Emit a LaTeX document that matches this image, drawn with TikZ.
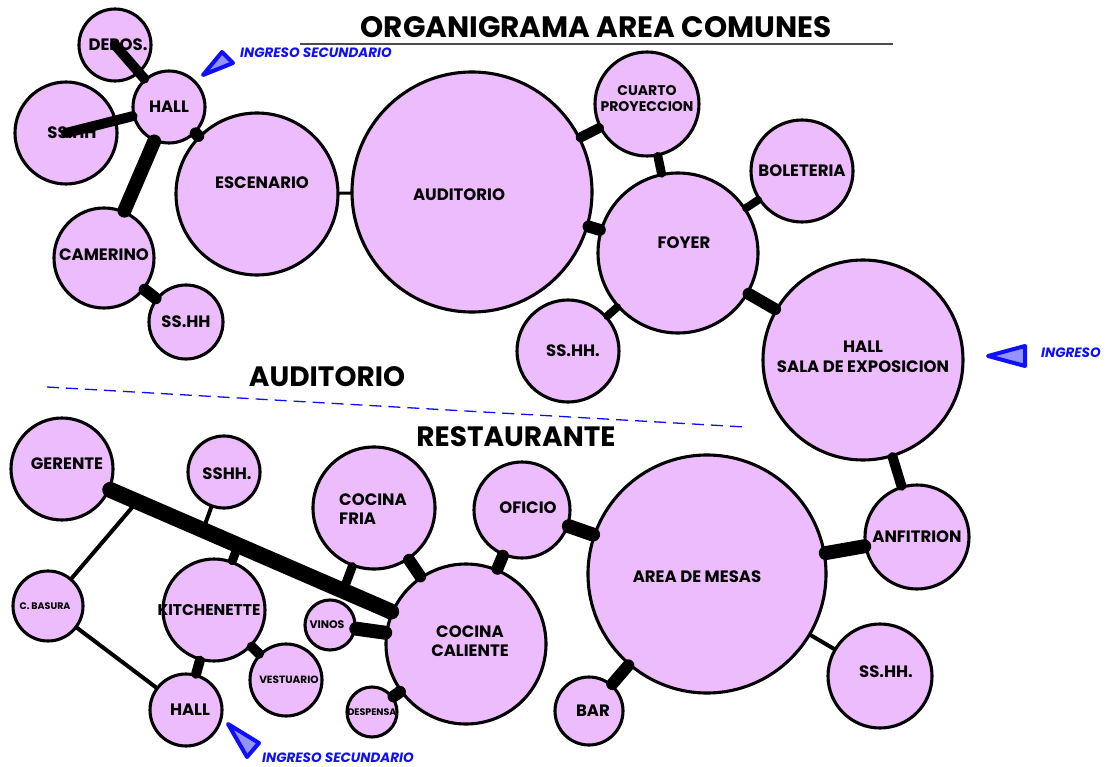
\documentclass[tikz,border=0pt]{standalone}
\usepackage{fontspec}
\setmainfont{Poppins}
\usepackage{xcolor}
\usepackage{tikz}
\usetikzlibrary{calc}

\definecolor{lila}{RGB}{236,188,252}
\definecolor{ingreso}{RGB}{15,15,250}

\begin{document}
\begin{tikzpicture}[
    x=1pt, y=-1pt,
    bub/.style={circle, draw, line width=3.1pt, fill=lila, inner sep=0pt, minimum size=#1pt},
    txt/.style={font=\fontsize{16.5}{19.5}\selectfont\bfseries, align=center, inner sep=0pt},
    txs/.style={font=\fontsize{14}{16}\selectfont\bfseries, align=center, inner sep=0pt},
    txm/.style={font=\fontsize{#1}{#1}\selectfont\bfseries, align=center, inner sep=0pt},
    lnk/.style={line width=#1pt, line cap=round},
    head/.style={font=\fontsize{28}{30}\selectfont\bfseries, inner sep=0pt},
    ing/.style={font=\fontsize{13.5}{15}\selectfont\bfseries\itshape, text=ingreso, inner sep=0pt, anchor=west},
    flecha/.style={draw=ingreso, line width=4pt, line join=round, fill=ingreso!45!white}
]
\useasboundingbox[fill=white] (0,0) rectangle (1110,767);

% Titles
\node[head, font=\fontsize{29.5}{32}\selectfont\bfseries] (tit) at (596,27) {ORGANIGRAMA AREA COMUNES};
\draw[gray!60!black, line width=1.5pt] (300,44) -- (893,44);
\node[head] (taud) at (327,377) {AUDITORIO};
\node[head] (trest) at (516,437) {RESTAURANTE};
\draw[ingreso, line width=1.3pt, dash pattern=on 12pt off 7pt] (47,387) -- (745,427);

% Auditorio (upper part)
\node[bub=72, label={[txt, xshift=3pt]center:DEPOS.}] (depos) at (115,45) {};
\node[bub=102, label={[txt, xshift=6pt]center:SS.HH}] (sshhA) at (66,133) {};
\node[bub=72, label={[txt]center:HALL}] (hallA) at (169,107) {};
\node[bub=100, label={[txt, yshift=3pt]center:CAMERINO}] (camerino) at (104,258) {};
\node[bub=74, label={[txt]center:SS.HH}] (sshhB) at (186,322) {};
\node[bub=162, label={[txt, xshift=5pt, yshift=11pt]center:ESCENARIO}] (escenario) at (257,194) {};
\node[bub=240, label={[txt, xshift=-13pt, yshift=-3pt]center:AUDITORIO}] (auditorio) at (472,192) {};
\node[bub=104, label={[txs, yshift=5pt]center:CUARTO\\PROYECCION}] (cuarto) at (647,104) {};
\node[bub=160, label={[txt, xshift=6pt, yshift=10pt]center:FOYER}] (foyer) at (678,253) {};
\node[bub=102, label={[txt]center:BOLETERIA}] (boleteria) at (802,171) {};
\node[bub=102, label={[txt, xshift=5pt]center:SS.HH.}] (sshhC) at (568,351) {};
\node[bub=200, label={[txt, yshift=3pt]center:HALL\\SALA DE EXPOSICION}] (hallsala) at (863,360) {};

\draw[lnk=3] (escenario) -- (auditorio);
\draw[lnk=12] (hallA) -- (escenario);
\draw[lnk=14] (hallA) -- (camerino);
\draw[lnk=12] (camerino) -- (sshhB);
\draw[lnk=10] (depos.center) -- (hallA);
\draw[lnk=10] (sshhA.center) -- (hallA);
\draw[lnk=10] (auditorio) -- (cuarto);
\draw[lnk=9] (cuarto) -- (foyer);
\draw[lnk=12] (auditorio) -- (foyer);
\draw[lnk=8] (foyer) -- (boleteria);
\draw[lnk=8] (foyer) -- (sshhC);
\draw[lnk=12] (foyer) -- (hallsala);

% Restaurante (lower part)
\node[bub=104, label={[txt]center:ANFITRION}] (anfitrion) at (917,537) {};
\node[bub=238, label={[txt, xshift=-10pt, yshift=-3pt]center:AREA DE MESAS}] (mesas) at (707,574) {};
\node[bub=104, label={[txt, xshift=6pt, yshift=4pt]center:SS.HH.}] (sshhD) at (880,676) {};
\node[bub=68, label={[txt, xshift=4pt]center:BAR}] (bar) at (589,711) {};
\node[bub=96, label={[txt, xshift=6pt, yshift=2pt]center:OFICIO}] (oficio) at (522,510) {};
\node[bub=160, label={[txt, xshift=4pt, yshift=3pt]center:COCINA\\CALIENTE}] (cocinac) at (466,644) {};
\node[bub=122, label={[txt, align=left, xshift=-1pt, yshift=-1pt]center:COCINA\\FRIA}] (cocinaf) at (374,508) {};
\node[bub=50, label={[txm=11, xshift=-3pt]center:VINOS}] (vinos) at (330,625) {};
\node[bub=50, label={[txm=9.5]center:DESPENSA}] (despensa) at (372,712) {};
\node[bub=102, label={[txt, xshift=5pt, yshift=5pt]center:GERENTE}] (gerente) at (62,469) {};
\node[bub=72, label={[txt, xshift=3pt, yshift=-2pt]center:SSHH.}] (sshhE) at (224,472) {};
\node[bub=70, label={[txm=9.5, xshift=-3pt]center:C. BASURA}] (basura) at (48,606) {};
\node[bub=102, label={[txt, font=\fontsize{15.5}{18}\selectfont\bfseries, xshift=-5pt]center:KITCHENETTE}] (kitch) at (214,610) {};
\node[bub=72, label={[txt, xshift=4pt]center:HALL}] (hallB) at (186,710) {};
\node[bub=72, label={[txm=10.5, xshift=3pt]center:VESTUARIO}] (vest) at (286,680) {};

% junctions on the gerente line
\coordinate (j1) at ($(gerente)!0.186!(cocinac)$);
\coordinate (j2) at ($(gerente)!0.349!(cocinac)$);
\coordinate (j3) at ($(gerente)!0.436!(cocinac)$);
\coordinate (j4) at ($(gerente)!0.696!(cocinac)$);

\draw[lnk=10] (hallsala) -- (anfitrion);
\draw[lnk=14] (anfitrion) -- (mesas);
\draw[lnk=4] (mesas) -- (sshhD);
\draw[lnk=14] (mesas) -- (oficio);
\draw[lnk=12] (mesas) -- (bar);
\draw[lnk=12] (oficio) -- (cocinac);
\draw[lnk=12] (cocinaf) -- (cocinac);
\draw[lnk=14] (vinos) -- (cocinac);
\draw[lnk=12] (despensa) -- (cocinac);
\draw[lnk=16] (gerente) -- (cocinac);
\draw[lnk=4] (basura) -- (j1);
\draw[lnk=4] (sshhE) -- (j2);
\draw[lnk=9] (kitch) -- (j3);
\draw[lnk=9] (cocinaf) -- (j4);
\draw[lnk=4] (basura) -- (hallB);
\draw[lnk=10] (kitch) -- (hallB);
\draw[lnk=10] (kitch) -- (vest);

% Ingresos
\draw[flecha] (203,75) -- (222,52) -- (233,63) -- cycle;
\node[ing] (ingA) at (240,53) {INGRESO SECUNDARIO};
\draw[flecha] (988,356) -- (1025,346) -- (1025,366) -- cycle;
\node[ing] (ingB) at (1041,353) {INGRESO};
\draw[flecha] (228,724) -- (259,743) -- (247,757) -- cycle;
\node[ing] (ingC) at (262,758) {INGRESO SECUNDARIO};

\end{tikzpicture}
\end{document}
